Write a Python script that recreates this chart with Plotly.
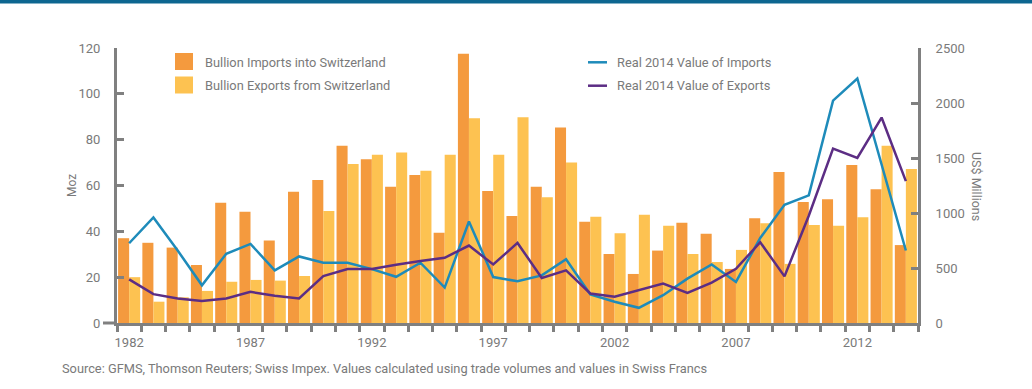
import plotly.graph_objects as go

years = list(range(1982, 2015))
imports_moz = [37, 35, 32.9, 25.3, 52.5, 48.6, 36, 57.3, 62.4, 77.3, 71.5, 59.5, 64.6, 39.4, 117.5,
               57.6, 46.7, 59.5, 85.3, 44.2, 30.1, 21.4, 31.6, 43.8, 38.9, 23.6, 45.7, 65.9, 52.8,
               54, 69, 58.4, 34]
exports_moz = [20, 9.3, 11.2, 14, 18, 18.8, 18.5, 20.5, 48.9, 69.4, 73.4, 74.4, 66.4, 73.4, 89.4,
               73.4, 89.8, 54.9, 70, 46.4, 39.2, 47.2, 42.4, 30.1, 26.6, 31.9, 43.5, 25.8, 42.8,
               42.4, 46.2, 77.3, 67.2]
imports_usd = [725, 960, 659, 343, 629, 719, 478, 605, 548, 548, 490, 420, 548, 322, 923, 418, 379,
               433, 580, 259, 193, 138, 253, 403, 532, 373, 773, 1074, 1161, 2022, 2223, 1441, 659]
exports_usd = [397, 262, 223, 201, 223, 283, 247, 223, 427, 490, 490, 530, 563, 593, 704, 532, 728,
               409, 478, 268, 238, 298, 358, 274, 367, 493, 734, 424, 975, 1585, 1501, 1868, 1290]
tick_years = [1982, 1987, 1992, 1997, 2002, 2007, 2012]
left_ticks = [0, 20, 40, 60, 80, 100, 120]
right_ticks = [0, 500, 1000, 1500, 2000, 2500]

names = ["Bullion Imports into Switzerland", "Bullion Exports from Switzerland",
         "Real 2014 Value of Imports", "Real 2014 Value of Exports"]
ORANGE = "#F49A3E"
YELLOW = "#FDC251"
BLUE = "#1E8BBA"
PURPLE = "#5C2D84"
GREY = "#808080"
TXT = "#7A7A7A"
FONT = "Roboto"

W, H = 1032, 389
L, R, T, B = 117, 918, 48, 323

fig = go.Figure()
fig.add_trace(go.Bar(x=years, y=imports_moz, name=names[0], marker_color=ORANGE,
                     marker_line_width=0, showlegend=False))
fig.add_trace(go.Bar(x=years, y=exports_moz, name=names[1], marker_color=YELLOW,
                     marker_line_width=0, showlegend=False))
fig.add_trace(go.Scatter(x=years, y=imports_usd, name=names[2], mode="lines",
                         line=dict(color=BLUE, width=2.5), yaxis="y2", showlegend=False))
fig.add_trace(go.Scatter(x=years, y=exports_usd, name=names[3], mode="lines",
                         line=dict(color=PURPLE, width=2.5), yaxis="y2", showlegend=False))

def px(x):
    return (x - L) / (R - L)

def py(y):
    return (B - y) / (B - T)

shapes = [
    dict(type="rect", xref="paper", yref="paper", x0=px(0), x1=px(W), y0=py(3.5), y1=py(-1),
         fillcolor="#0D6690", line_width=0, layer="above"),
    dict(type="line", xref="paper", yref="paper", x0=px(103), x1=px(L), y0=0, y1=0,
         line=dict(color=GREY, width=3)),
    # legend swatches
    dict(type="rect", xref="paper", yref="paper", x0=px(175), x1=px(193), y0=py(70), y1=py(53),
         fillcolor=ORANGE, line_width=0),
    dict(type="rect", xref="paper", yref="paper", x0=px(175), x1=px(193), y0=py(93.5), y1=py(76.5),
         fillcolor=YELLOW, line_width=0),
    dict(type="line", xref="paper", yref="paper", x0=px(588), x1=px(607), y0=py(62.3), y1=py(62.3),
         line=dict(color=BLUE, width=2.5)),
    dict(type="line", xref="paper", yref="paper", x0=px(588), x1=px(607), y0=py(85.7), y1=py(85.7),
         line=dict(color=PURPLE, width=2.5)),
]

annotations = []
for txt, xx, yy in [(names[0], 203, 62), (names[1], 203, 85.5), (names[2], 615, 62), (names[3], 615, 85.5)]:
    annotations.append(dict(text=txt, xref="paper", yref="paper", x=px(xx), y=py(yy),
                            xanchor="left", yanchor="middle", showarrow=False,
                            font=dict(family=FONT, size=12.8, color=TXT)))
annotations.append(dict(text="Moz", xref="paper", yref="paper", x=px(72), y=py(186),
                        xanchor="center", yanchor="middle", textangle=-90, showarrow=False,
                        font=dict(family=FONT, size=12, color=TXT)))
annotations.append(dict(text="US$ Millions", xref="paper", yref="paper", x=px(977), y=py(186),
                        xanchor="center", yanchor="middle", textangle=90, showarrow=False,
                        font=dict(family=FONT, size=12.5, color=TXT)))
annotations.append(dict(text="Source: GFMS, Thomson Reuters; Swiss Impex. Values calculated using trade volumes and values in Swiss Francs",
                        xref="paper", yref="paper", x=px(60), y=py(368),
                        xanchor="left", yanchor="middle", showarrow=False,
                        font=dict(family=FONT, size=12.8, color=TXT)))

fig.update_layout(
    width=W, height=H,
    margin=dict(l=L, r=W - R, t=T, b=H - B, pad=0),
    paper_bgcolor="white", plot_bgcolor="white",
    barmode="group", bargap=0.09, bargroupgap=0,
    font=dict(family=FONT, size=13, color=TXT),
    showlegend=False,
    shapes=shapes, annotations=annotations,
    xaxis=dict(range=[1981.5, 2014.5], tickvals=tick_years, ticktext=[str(y) for y in tick_years],
               ticks="", showgrid=False, zeroline=False, showline=True, linecolor=GREY, linewidth=3,
               ticklabelstandoff=5, tickfont=dict(size=13, color=TXT),
               minor=dict(tickvals=[y - 0.5 for y in years] + [2014.5], ticks="outside", ticklen=6,
                          tickwidth=3, tickcolor=GREY, showgrid=False)),
    yaxis=dict(range=[0, 120], tickvals=left_ticks, ticks="inside", ticklen=7, tickwidth=3,
               tickcolor=GREY, showgrid=False, zeroline=False, showline=True, linecolor=GREY,
               linewidth=3, ticklabelstandoff=11, tickfont=dict(size=13, color=TXT)),
    yaxis2=dict(range=[0, 2500], tickvals=right_ticks, overlaying="y", side="right",
                ticks="inside", ticklen=7, tickwidth=3, tickcolor=GREY, showgrid=False,
                zeroline=False, showline=True, linecolor=GREY, linewidth=3,
                ticklabelstandoff=12, tickfont=dict(size=13, color=TXT)),
)

fig.write_html("out.html", config={"displayModeBar": False},
               post_script="document.body.style.margin='0';")
